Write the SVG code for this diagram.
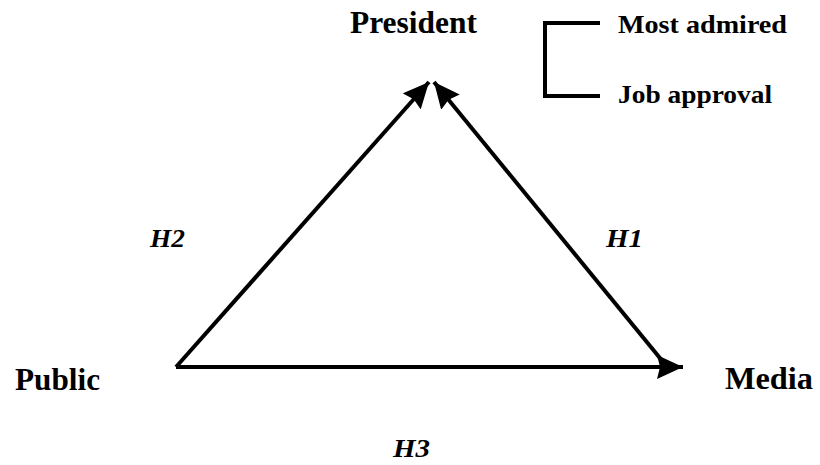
<svg xmlns="http://www.w3.org/2000/svg" width="820" height="465" viewBox="0 0 820 465">
<style>
.lbl{font-family:"Liberation Serif","Times New Roman",serif;font-weight:bold;fill:#000}
.big{font-size:31px}
.small{font-size:26px}
.h{font-family:"Liberation Serif","Times New Roman",serif;font-weight:bold;font-style:italic;font-size:26px;fill:#000}
.edge{stroke:#000;stroke-width:4;fill:none}
</style>
<defs>
<marker id="ah" viewBox="0 0 26 24" refX="26" refY="12" markerWidth="26" markerHeight="24" markerUnits="userSpaceOnUse" orient="auto">
<path d="M0,0 L26,12 L0,24 L3,12 Z" fill="#000"/>
</marker>
</defs>
<rect width="820" height="465" fill="#fff"/>
<g id="connectors">
<line id="e-public-president" class="edge" x1="176" y1="367" x2="429" y2="82" marker-end="url(#ah)"/>
<line id="e-media-president" class="edge" x1="664" y1="363" x2="434" y2="82" marker-end="url(#ah)"/>
<line id="e-public-media" class="edge" x1="176" y1="367" x2="683" y2="367" marker-end="url(#ah)"/>
<polyline id="bracket" class="edge" stroke-width="2.5" points="600,23 545,23 545,96 600,96"/>
</g>
<g id="president"><text class="lbl big" x="350" y="33" textLength="127" lengthAdjust="spacingAndGlyphs">President</text></g>
<g id="most-admired"><text class="lbl small" x="618" y="33" textLength="169" lengthAdjust="spacingAndGlyphs">Most admired</text></g>
<g id="job-approval"><text class="lbl small" x="618" y="103" textLength="154" lengthAdjust="spacingAndGlyphs">Job approval</text></g>
<g id="public"><text class="lbl big" x="15" y="390" textLength="85" lengthAdjust="spacingAndGlyphs">Public</text></g>
<g id="media"><text class="lbl big" x="725" y="389" textLength="88" lengthAdjust="spacingAndGlyphs">Media</text></g>
<g id="h2"><text class="h" x="150" y="247" textLength="35" lengthAdjust="spacingAndGlyphs">H2</text></g>
<g id="h1"><text class="h" x="606" y="247" textLength="37" lengthAdjust="spacingAndGlyphs">H1</text></g>
<g id="h3"><text class="h" x="393" y="457" textLength="37" lengthAdjust="spacingAndGlyphs">H3</text></g>
</svg>
